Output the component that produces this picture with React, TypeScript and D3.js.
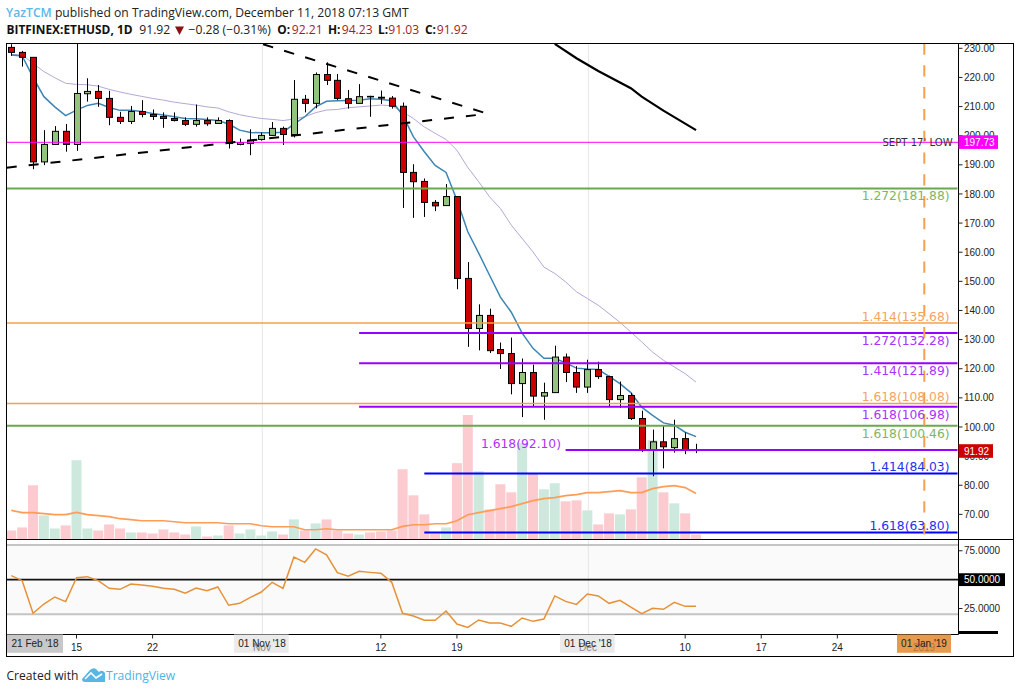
import { useEffect, useRef } from "react";
import * as d3 from "d3";

const WIDTH = 1020;
const HEIGHT = 693;

// Daily candles, 9 Oct to 11 Dec 2018
const firstDay = new Date(Date.UTC(2018, 9, 9));
const opens = [
  230.3, 228.6, 226.9, 191, 197, 201.5, 197, 214.4, 215.2, 212.8, 206.3, 204.9, 208.3, 207.3, 206.6, 205.9,
  205.2, 203.9, 205.2, 204.2, 205.2, 197, 197.3, 198.7, 200.1, 202.5, 200.4, 212.5, 211.1, 221, 219,
  212.7, 211.1, 213.5, 213.2, 212.9, 210.1, 187.4, 184.3, 177.1, 176, 179.1, 151, 133.8, 138.3, 126.6,
  125.2, 114.9, 118.7, 110.6, 111.8, 124, 118.7, 113.7, 119.7, 117.3, 109.4, 110.8, 102.9, 92, 94.9, 92.9, 96, 92.21,
];
const highs = [
  231.4, 229.1, 226.9, 201.9, 203.3, 204, 233, 219.7, 217.4, 215.4, 208.2, 210.2, 212.2, 209, 208, 208,
  206.3, 210.7, 206.3, 206.3, 205.6, 199, 202.2, 201.1, 204.7, 203.1, 219.1, 214, 221.7, 225.2, 221.2,
  215.7, 217.7, 213.7, 215.5, 213.6, 211.4, 190.2, 185.3, 177.9, 183.4, 179.1, 156.6, 142.1, 140.6, 129,
  130.7, 123.5, 121.4, 115.2, 127.9, 125.2, 120.9, 123.1, 122.4, 117.6, 115.6, 111.7, 105.6, 99.1, 100.6, 102.5, 98.1, 94.23,
];
const lows = [
  227.4, 223.7, 188.5, 189.9, 197, 194.5, 194.8, 211.7, 209.9, 203.6, 204, 204, 206.3, 205.4, 202.7, 204.9,
  203.3, 203.1, 203.4, 204, 195.6, 196.7, 193.3, 198.3, 199.9, 196.8, 199.4, 208, 209.4, 217.4, 212.2,
  209.3, 211.1, 206.5, 210.9, 209.3, 175.2, 171.8, 172.1, 174.1, 175.9, 147.3, 127.5, 126.3, 125.4, 119.9,
  111.2, 103.4, 107.1, 102.5, 111.8, 115.4, 111.7, 111.7, 116.5, 107.1, 106.5, 102.4, 91.4, 83.1, 85.8, 91.2, 90.7, 91.03,
];
const closes = [
  228.6, 226.9, 191, 197, 201.5, 197, 214.5, 215.2, 212.8, 206.3, 204.9, 208.3, 207.3, 206.6, 205.9, 205.2,
  203.9, 205.2, 204.1, 205.2, 197.3, 197.6, 198.4, 200.1, 202.5, 200.4, 212.5, 211.1, 221, 219, 212.8,
  211.1, 213.4, 213.3, 212.9, 210.1, 187.4, 184.2, 177.1, 175.9, 179.1, 151, 133.8, 138.3, 126.2, 125.2,
  114.9, 118.7, 110.6, 111.8, 124, 118.7, 113.7, 119.7, 117.3, 109.4, 110.8, 102.9, 92.2, 94.9, 93.2, 96, 92.2, 91.92,
];

// Relative volume
const volumes = [
  9, 12, 54, 24, 11, 14, 79, 11, 9, 15, 11, 7, 7, 6, 10, 7, 5, 13, 3, 4, 14, 6, 10, 4, 8, 5, 20, 9, 16, 20, 9,
  6, 5, 7, 8, 9, 70, 44, 25, 6, 12, 76, 124, 68, 30, 55, 47, 96, 66, 50, 56, 38, 39, 29, 15, 26, 25, 30, 62, 99, 47, 36, 26, 5,
];
const volumeAverage = [
  29, 26.7, 26.7, 25.7, 24.7, 24.7, 27, 24.7, 23.7, 22.7, 20.7, 19.7, 18.7, 18.7, 18.7, 17.7, 16.7, 16.7, 16.7, 16.7,
  15.7, 15.7, 15.7, 13.7, 12.7, 12.7, 12.7, 9.7, 9.7, 10.7, 9.7,
  9.7, 9.7, 9.7, 9.7, 9.7, 13, 14.7, 14.7, 15.7, 15.7, 18.7, 24.7, 26.7, 28.7, 30.7, 32.7, 35.7, 38.7, 40.7, 41.7,
  43.7, 44.7, 46.7, 46.7, 47.7, 48.7, 46.7, 46.7, 50.7, 52.7, 53.7, 51.7, 45.7,
];

const fastEma = [
  227.7, 227.4, 220, 213.4, 209.9, 206.9, 208.8, 210.4, 211.1, 209.7, 208.7, 208.7, 208.3, 207.6, 207.1, 206.5,
  205.9, 205.8, 205.6, 205.2, 204, 201.9, 201.1, 201, 201, 201.2, 204, 206.5, 209.9, 211.8, 212,
  212.1, 212.2, 212.7, 212.5, 212, 207.1, 199.6, 194.5, 189.8, 187.4, 177.9, 167, 159.7, 152.1, 144.6,
  139.4, 132.2, 127, 123.6, 123.6, 122, 120.2, 119.9, 119.7, 117.4, 114.9, 111.8, 106.8, 104, 101.4, 100.6, 98.2, 96.7,
];
const slowEma = [
  227.9, 227.7, 224.8, 222, 219.9, 218, 217.6, 217.5, 217, 215.9, 215, 214.2, 213.5, 212.8, 212.2, 211.5,
  211, 210.5, 209.9, 209.5, 208.2, 207.2, 206.5, 205.9, 205.6, 205.2, 205.7, 206.5, 207.9, 208.8, 209,
  209.6, 209.9, 210.2, 210.5, 210.3, 208.2, 205.9, 203, 200.8, 198.7, 195, 189.1, 184.2, 179, 175,
  169.3, 164.7, 160.1, 154.9, 152.7, 149.8, 146.4, 144.1, 141.8, 138.9, 135.9, 132.6, 129.2, 125.7, 122.9, 120.6, 118.3, 115.4,
];

const rsi = [
  53.5, 49.1, 20.9, 28.9, 35, 31, 51.7, 52.6, 49.1, 42.5, 41.6, 46.2, 45.4, 44.2, 42.5, 41.6, 38.2, 42.8, 40.5, 43.7,
  27.8, 29.5, 34.7, 39.3, 47.7, 42.5, 69.6, 65, 76.6, 71.4, 56.1,
  52.9, 57.2, 56.3, 55.5, 47.7, 20.9, 18.5, 14.8, 14.8, 22.9, 11.6, 8.7, 15.1, 12.5, 12.5, 9.6, 16.8, 13.9, 15.9,
  35.9, 31.2, 28.6, 37.6, 35.9, 29.5, 32.1, 26.3, 20.6, 25.2, 24.3, 30.4, 26.9, 26.9,
];

const priceTicks = [230, 220, 210, 200, 190, 180, 170, 160, 150, 140, 130, 120, 110, 100, 90, 80, 70];
const rsiTicks = [75, 25];
const timeTicks: [string, string][] = [
  ["2018-10-15", "15"],
  ["2018-10-22", "22"],
  ["2018-11-12", "12"],
  ["2018-11-19", "19"],
  ["2018-12-10", "10"],
  ["2018-12-17", "17"],
  ["2018-12-24", "24"],
];

// Fibonacci levels: start day (null = whole pane), price, ratio, colour group
const levelPrices = [181.88, 135.68, 132.28, 121.89, 108.08, 106.98, 100.46, 92.1, 84.03, 63.8];
const levelRatios = ["1.272", "1.414", "1.272", "1.414", "1.618", "1.618", "1.618", "1.618", "1.414", "1.618"];
const levelStarts = [null, null, "2018-11-10", "2018-11-10", null, "2018-11-10", null, "2018-11-29", "2018-11-16", "2018-11-16"];
const levelGroups = ["green", "orange", "purple", "purple", "orange", "purple", "green", "purple", "blue", "blue"];
const labelBelow = [true, false, true, true, false, true, true, false, false, false];

const lowerWedge: [string, number][] = [
  ["2018-10-08T14:00Z", 189],
  ["2018-11-20T20:00Z", 207.1],
];
const upperWedge: [string, number][] = [
  ["2018-11-01T04:00Z", 231.4],
  ["2018-11-21T10:00Z", 208],
];
const heavyLine: [string, number][] = [
  ["2018-11-28", 231.5],
  ["2018-11-30", 226.6],
  ["2018-12-02", 222.2],
  ["2018-12-05", 216.3],
  ["2018-12-06", 213.4],
  ["2018-12-08", 208.6],
  ["2018-12-11", 201.9],
];

const lineColors: Record<string, string> = {
  green: "#6aa84f",
  orange: "#f6a04d",
  purple: "#9900ff",
  blue: "#0000ff",
};
const labelColors: Record<string, string> = {
  green: "#7db665",
  orange: "#f4a460",
  purple: "#aa33ff",
  blue: "#2233ee",
};

const SANS = "'Liberation Sans', Arial, sans-serif";
const HEADER = "'Open Sans', sans-serif";
const DEJAVU = "'DejaVu Sans', sans-serif";

export default function App() {
  const svgRef = useRef<SVGSVGElement>(null);

  useEffect(() => {
    if (!svgRef.current) return;
    d3.select(svgRef.current).selectAll("*").remove();
    const svg = d3.select(svgRef.current);

    const left = 6.5;
    const right = 958.5;
    const top = 43.5;
    const paneBottom = 539.5;
    const axisBottom = 634.5;
    const frameRight = 1013.5;
    const frameBottom = 656.5;

    const days = d3.range(opens.length).map((i) => d3.utcDay.offset(firstDay, i));
    const lastDay = new Date(Date.UTC(2019, 0, 1));

    const x = d3.scaleUtc().domain([firstDay, lastDay]).range([11.3, 924.3]);
    const y = d3.scaleLinear().domain([61.37, 231.65]).range([paneBottom, top]);
    const yVol = d3.scaleLinear().domain([0, 124]).range([paneBottom, 415]);
    const yRsi = d3.scaleLinear().domain([20, 80]).range([614.3, 545]);

    const defs = svg.append("defs");
    defs
      .append("clipPath")
      .attr("id", "pane")
      .append("rect")
      .attr("x", left)
      .attr("y", top)
      .attr("width", right - left)
      .attr("height", paneBottom - top);

    // Header
    const head = svg.append("g").attr("font-family", HEADER).attr("font-size", 12.15).attr("fill", "#222");
    const line1 = head.append("text").attr("x", 6).attr("y", 17.3);
    line1.append("tspan").attr("fill", "#5cb8e8").attr("font-weight", 600).text("YazTCM");
    line1.append("tspan").text(" published on TradingView.com, December 11, 2018 07:13 GMT");

    const headerRow: [number, string, string, number][] = [
      [6.5, "BITFINEX:ETHUSD, 1D", "#111", 700],
      [139.3, "91.92", "#222", 400],
      [188.5, "\u22120.28 (\u22120.31%)", "#222", 400],
      [277.3, "O:", "#111", 700],
      [291.7, "92.21", "#a61c1c", 400],
      [328, "H:", "#111", 700],
      [341.7, "94.23", "#a61c1c", 400],
      [378, "L:", "#111", 700],
      [388.3, "91.03", "#a61c1c", 400],
      [425, "C:", "#111", 700],
      [436.7, "91.92", "#a61c1c", 400],
    ];
    headerRow.forEach(([tx, label, color, weight]) => {
      head
        .append("text")
        .attr("x", tx)
        .attr("y", 33.6)
        .attr("fill", color)
        .attr("font-weight", weight)
        .attr("font-size", weight === 700 ? 11.9 : 12.15)
        .text(label);
    });
    svg.append("path").attr("d", "M175,26.5 L184,26.5 L179.5,35 Z").attr("fill", "#8b1010");

    // RSI background and levels
    svg
      .append("rect")
      .attr("x", left)
      .attr("y", yRsi(80))
      .attr("width", right - left)
      .attr("height", yRsi(20) - yRsi(80))
      .attr("fill", "#fafafa");

    // Month grid lines
    [new Date(Date.UTC(2018, 10, 1)), new Date(Date.UTC(2018, 11, 1))].forEach((d) => {
      svg
        .append("line")
        .attr("x1", x(d) + 1)
        .attr("x2", x(d) + 1)
        .attr("y1", top)
        .attr("y2", axisBottom)
        .attr("stroke", "#e6e6e6")
        .attr("stroke-width", 1);
    });

    [80, 20].forEach((v) => {
      svg
        .append("line")
        .attr("x1", left)
        .attr("x2", right)
        .attr("y1", yRsi(v))
        .attr("y2", yRsi(v))
        .attr("stroke", "#c4c4c4")
        .attr("stroke-width", 2);
    });
    svg
      .append("line")
      .attr("x1", left)
      .attr("x2", right)
      .attr("y1", yRsi(50))
      .attr("y2", yRsi(50))
      .attr("stroke", "#111")
      .attr("stroke-width", 1.8);

    const pane = svg.append("g").attr("clip-path", "url(#pane)");

    // Volume
    days.forEach((d, i) => {
      pane
        .append("rect")
        .attr("x", x(d) - 5)
        .attr("y", yVol(volumes[i]))
        .attr("width", 10)
        .attr("height", paneBottom - yVol(volumes[i]))
        .attr("fill", closes[i] >= opens[i] ? "#cde9dd" : "#fbcbd0");
    });

    const lineOf = (values: number[], scale: d3.ScaleLinear<number, number>) =>
      d3
        .line<number>()
        .x((_, i) => x(days[i]))
        .y((v) => scale(v))(values);

    pane
      .append("path")
      .attr("d", lineOf(volumeAverage, yVol))
      .attr("fill", "none")
      .attr("stroke", "#ff9d57")
      .attr("stroke-width", 1.7);
    pane
      .append("path")
      .attr("d", lineOf(slowEma, y))
      .attr("fill", "none")
      .attr("stroke", "#b4a7d6")
      .attr("stroke-width", 1);
    pane
      .append("path")
      .attr("d", lineOf(fastEma, y))
      .attr("fill", "none")
      .attr("stroke", "#3d85b5")
      .attr("stroke-width", 1.5);

    // Candles
    days.forEach((d, i) => {
      const up = closes[i] >= opens[i];
      const cx = Math.round(x(d)) + 0.5;
      pane
        .append("line")
        .attr("x1", cx)
        .attr("x2", cx)
        .attr("y1", y(highs[i]))
        .attr("y2", y(lows[i]))
        .attr("stroke", "#000")
        .attr("stroke-width", 1);
      const bodyTop = y(Math.max(opens[i], closes[i]));
      const bodyBottom = y(Math.min(opens[i], closes[i]));
      pane
        .append("rect")
        .attr("x", cx - 3)
        .attr("y", bodyTop)
        .attr("width", 6)
        .attr("height", Math.max(bodyBottom - bodyTop, 0.5))
        .attr("fill", up ? "#93c47d" : "#cc0000")
        .attr("stroke", "#000")
        .attr("stroke-width", 1);
    });

    // Drawn levels
    pane
      .append("line")
      .attr("x1", left)
      .attr("x2", right)
      .attr("y1", y(197.73))
      .attr("y2", y(197.73))
      .attr("stroke", "#ff00ff")
      .attr("stroke-width", 1);

    levelPrices.forEach((price, i) => {
      const start = levelStarts[i];
      pane
        .append("line")
        .attr("x1", start ? x(new Date(start)) : left)
        .attr("x2", right - 1)
        .attr("y1", y(price))
        .attr("y2", y(price))
        .attr("stroke", lineColors[levelGroups[i]])
        .attr("stroke-width", levelGroups[i] === "orange" ? 1.6 : 2);
    });

    const toPoint = (p: [string, number]): [number, number] => [x(new Date(p[0])), y(p[1])];
    const drawn = d3.line();
    pane
      .append("path")
      .attr("d", drawn(lowerWedge.map(toPoint)))
      .attr("fill", "none")
      .attr("stroke", "#000")
      .attr("stroke-width", 2)
      .attr("stroke-dasharray", "10,12");
    pane
      .append("path")
      .attr("d", drawn(upperWedge.map(toPoint)))
      .attr("fill", "none")
      .attr("stroke", "#000")
      .attr("stroke-width", 2)
      .attr("stroke-dasharray", "10.5,11.5");
    pane
      .append("path")
      .attr("d", drawn(heavyLine.map(toPoint)))
      .attr("fill", "none")
      .attr("stroke", "#000")
      .attr("stroke-width", 2.2);

    // Vertical dashed marker
    const jan = x(lastDay);
    pane
      .append("line")
      .attr("x1", jan)
      .attr("x2", jan)
      .attr("y1", top)
      .attr("y2", paneBottom)
      .attr("stroke", "#f6a04d")
      .attr("stroke-width", 2)
      .attr("stroke-dasharray", "11.3,10.5");

    // Level labels
    levelPrices.forEach((price, i) => {
      const isLeft = price === 92.1;
      svg
        .append("text")
        .attr("x", isLeft ? 561 : 949.5)
        .attr("y", y(price) + (labelBelow[i] ? 12 : isLeft ? -2 : -2.5))
        .attr("text-anchor", "end")
        .attr("font-family", DEJAVU)
        .attr("font-size", 12.3)
        .attr("fill", labelColors[levelGroups[i]])
        .text(`${levelRatios[i]}(${price.toFixed(2)})`);
    });
    svg
      .append("text")
      .attr("x", 952.7)
      .attr("y", y(197.73) + 3.7)
      .attr("text-anchor", "end")
      .attr("font-family", DEJAVU)
      .attr("font-size", 10.1)
      .attr("fill", "#333")
      .text("SEPT 17' LOW");

    // RSI
    svg
      .append("path")
      .attr("d", lineOf(rsi, yRsi))
      .attr("fill", "none")
      .attr("stroke", "#e69138")
      .attr("stroke-width", 1.5);

    // Frame
    svg
      .append("rect")
      .attr("x", left)
      .attr("y", top)
      .attr("width", frameRight - left)
      .attr("height", frameBottom - top)
      .attr("fill", "none")
      .attr("stroke", "#000")
      .attr("stroke-width", 1);
    [
      [right, top, right, axisBottom],
      [left, paneBottom, frameRight, paneBottom],
      [left, axisBottom, right, axisBottom],
    ].forEach(([x1, y1, x2, y2]) => {
      svg
        .append("line")
        .attr("x1", x1)
        .attr("y1", y1)
        .attr("x2", x2)
        .attr("y2", y2)
        .attr("stroke", "#000")
        .attr("stroke-width", 1);
    });

    // Price axis
    const axisText = svg.append("g").attr("font-family", SANS).attr("font-size", 10).attr("fill", "#222");
    priceTicks.forEach((tick) => {
      svg
        .append("line")
        .attr("x1", right)
        .attr("x2", right + 4)
        .attr("y1", y(tick))
        .attr("y2", y(tick))
        .attr("stroke", "#222");
      axisText
        .append("text")
        .attr("x", 964)
        .attr("y", y(tick) + 3.6)
        .text(tick.toFixed(2));
    });
    rsiTicks.forEach((tick) => {
      svg
        .append("line")
        .attr("x1", right)
        .attr("x2", right + 4)
        .attr("y1", yRsi(tick))
        .attr("y2", yRsi(tick))
        .attr("stroke", "#222");
      axisText
        .append("text")
        .attr("x", 964)
        .attr("y", yRsi(tick) + 3.6)
        .text(tick.toFixed(4));
    });

    // Value tags on the price axis
    const tag = (cy: number, w: number, fill: string, label: string, h = 13.6) => {
      svg
        .append("rect")
        .attr("x", right)
        .attr("y", cy - h / 2)
        .attr("width", w)
        .attr("height", h)
        .attr("fill", fill);
      svg
        .append("text")
        .attr("x", 964)
        .attr("y", cy + 3.6)
        .attr("font-family", SANS)
        .attr("font-size", 10)
        .attr("fill", "#fff")
        .text(label);
    };
    tag(y(197.73) - 0.2, 39.5, "#ff00ff", "197.73");
    tag(y(91.92) + 0.5, 34.5, "#cc0000", "91.92");
    tag(yRsi(50), 46.5, "#000", "50.0000", 12.8);
    svg.append("rect").attr("x", right).attr("y", 631).attr("width", 39.5).attr("height", 3).attr("fill", "#000");

    // Time axis
    timeTicks.forEach(([date, label]) => {
      const tx = x(new Date(date));
      svg
        .append("line")
        .attr("x1", tx)
        .attr("x2", tx)
        .attr("y1", axisBottom)
        .attr("y2", axisBottom + 4)
        .attr("stroke", "#222");
      axisText
        .append("text")
        .attr("x", tx)
        .attr("y", 651)
        .attr("text-anchor", "middle")
        .text(label);
    });

    // Date tags with the month labels showing through
    const timeTag = (cx: number, x0: number, x1: number, fill: string, ghost: string, ghostFill: string, label: string) => {
      svg
        .append("rect")
        .attr("x", x0)
        .attr("y", axisBottom)
        .attr("width", x1 - x0)
        .attr("height", 18.3)
        .attr("fill", fill);
      svg
        .append("text")
        .attr("x", cx)
        .attr("y", 651)
        .attr("text-anchor", "middle")
        .attr("font-family", SANS)
        .attr("font-size", 10)
        .attr("fill", ghostFill)
        .text(ghost);
      svg
        .append("text")
        .attr("x", cx)
        .attr("y", 647)
        .attr("text-anchor", "middle")
        .attr("font-family", SANS)
        .attr("font-size", 10)
        .attr("fill", "#222")
        .text(label);
    };
    timeTag(35, 7, 63, "#c8c8c8", "", "#555", "21 Feb '18");
    timeTag(262, 234, 288.7, "#ebebeb", "Nov", "#888", "01 Nov '18");
    timeTag(588, 560, 614.7, "#ebebeb", "Dec", "#888", "01 Dec '18");
    timeTag(924, 897, 951, "#e69a4e", "2019", "#b5773c", "01 Jan '19");

    // Footer
    const foot = svg.append("g").attr("font-family", HEADER).attr("font-size", 12.1);
    foot.append("text").attr("x", 6.5).attr("y", 680).attr("fill", "#222").text("Created with");
    foot.append("text").attr("x", 106).attr("y", 680).attr("fill", "#4db4e6").text("TradingView");
    svg
      .append("path")
      .attr("d", "M82,679 L90,670 Q93,667 96,669 L99,672 Q102,669 105,673 L105,682 L85,682 Q82,682 82,679 Z")
      .attr("fill", "#58b6e4");
    svg
      .append("path")
      .attr("d", "M85,679 L91,673 L96,678 L102,674")
      .attr("fill", "none")
      .attr("stroke", "#fff")
      .attr("stroke-width", 1.6);
  }, []);

  return (
    <svg
      ref={svgRef}
      width={WIDTH}
      height={HEIGHT}
      style={{ position: "absolute", left: 0, top: 0, background: "#fff", display: "block" }}
    ></svg>
  );
}
